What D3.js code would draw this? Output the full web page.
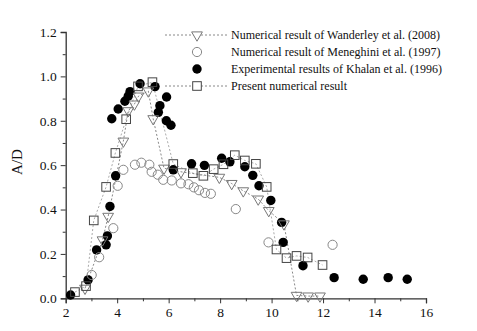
<!DOCTYPE html>
<html><head><meta charset="utf-8">
<script src="https://cdn.jsdelivr.net/npm/d3@7"></script>
<style>body{margin:0;background:#fff}svg{display:block}</style>
</head><body>
<svg id="c" width="477" height="331"></svg>
<script>
const wanderleyX = [2.75,3.43,3.65,4.24,4.43,4.67,4.83,5.21,5.40,5.82,6.48,7.97,8.45,8.90,9.48,9.89,10.48,10.97,11.42,11.88];
const wanderleyY = [0.045,0.263,0.369,0.708,0.845,0.875,0.911,0.934,0.809,0.586,0.570,0.545,0.517,0.484,0.447,0.395,0.335,0.013,0.010,0.010];
const meneghiniX = [3.01,3.30,3.85,4.02,4.24,4.69,4.94,5.25,5.34,5.58,5.79,6.12,6.48,6.77,6.98,7.18,7.41,7.64,8.61,9.88,12.37];
const meneghiniY = [0.105,0.185,0.316,0.507,0.579,0.602,0.611,0.602,0.570,0.557,0.534,0.531,0.518,0.514,0.500,0.487,0.475,0.471,0.402,0.252,0.241];
const khalanX = [2.19,2.87,3.20,3.57,3.62,3.72,3.94,3.79,4.04,4.30,4.43,4.50,4.89,5.47,5.92,5.66,5.60,5.91,6.09,6.18,6.89,7.39,8.06,8.38,8.96,9.27,9.51,9.97,10.39,10.45,11.22,12.43,13.56,14.53,15.27];
const khalanY = [0.015,0.083,0.218,0.241,0.281,0.414,0.552,0.809,0.853,0.888,0.911,0.931,0.967,0.954,0.907,0.868,0.838,0.800,0.780,0.579,0.606,0.599,0.631,0.615,0.593,0.554,0.507,0.441,0.342,0.252,0.147,0.093,0.086,0.093,0.086];
const presentX = [2.36,2.79,3.09,3.57,3.93,4.35,4.81,5.37,6.18,6.94,7.35,7.75,8.13,8.57,8.96,9.39,9.81,10.19,10.58,10.97,11.40,11.98];
const presentY = [0.028,0.055,0.351,0.502,0.655,0.807,0.955,0.974,0.605,0.564,0.552,0.582,0.604,0.645,0.621,0.606,0.502,0.220,0.181,0.191,0.184,0.150];
const legendLabels = ["Numerical result of Wanderley et al. (2008)","Numerical result of Meneghini et al. (1997)","Experimental results of Khalan et al. (1996)","Present numerical result"];
const xTicks = [2,4,6,8,10,12,14,16];
const yTicks = [0.0,0.2,0.4,0.6,0.8,1.0,1.2];

const svg = d3.select("#c");
const x = d3.scaleLinear().domain([2,16]).range([65.7,426]);
const y = d3.scaleLinear().domain([0,1.2]).range([298.3,32]);
const font = "'Liberation Serif','Times New Roman',serif";

const xAxis = d3.axisBottom(x).tickValues(xTicks).tickFormat(d3.format("d")).tickSize(5).tickPadding(4);
const xMinor = d3.axisBottom(x).tickValues(d3.range(3,16,2)).tickFormat("").tickSize(3);
const yAxis = d3.axisLeft(y).tickValues(yTicks).tickFormat(d3.format(".1f")).tickSize(5).tickPadding(4);
const yMinor = d3.axisLeft(y).tickValues(d3.range(0.1,1.2,0.2)).tickFormat("").tickSize(3);

function styleAxis(g){
  g.select(".domain").attr("stroke","#333").attr("stroke-width",1.3);
  g.selectAll(".tick line").attr("stroke","#333").attr("stroke-width",1);
  g.selectAll("text").attr("font-family",font).attr("font-size",13.5).attr("fill","#111");
}
svg.append("g").attr("transform","translate(0,298.3)").call(xAxis).call(styleAxis);
svg.append("g").attr("transform","translate(0,298.3)").call(xMinor).call(g=>{g.select(".domain").remove();g.selectAll("line").attr("stroke","#333");});
svg.append("g").attr("transform","translate(65.7,0)").call(yAxis).call(styleAxis);
svg.append("g").attr("transform","translate(65.7,0)").call(yMinor).call(g=>{g.select(".domain").remove();g.selectAll("line").attr("stroke","#333");});

svg.append("text").attr("transform","translate(22,162) rotate(-90)").attr("text-anchor","middle")
  .attr("font-family",font).attr("font-size",15).attr("fill","#111").text("A/D");

const line = d3.line().x(d=>x(d[0])).y(d=>y(d[1]));
const wData = wanderleyX.map((v,i)=>[v,wanderleyY[i]]);
const mData = meneghiniX.map((v,i)=>[v,meneghiniY[i]]);
const kData = khalanX.map((v,i)=>[v,khalanY[i]]);
const pData = presentX.map((v,i)=>[v,presentY[i]]);

svg.append("path").datum(pData).attr("d",line).attr("fill","none").attr("stroke","#aaa").attr("stroke-width",1).attr("stroke-dasharray","2,2");
svg.append("path").datum(wData).attr("d",line).attr("fill","none").attr("stroke","#888").attr("stroke-width",1).attr("stroke-dasharray","2,2");

const tri = d3.symbol().type(d3.symbolTriangle).size(50);
function triDown(g){ return g.attr("d",tri).attr("fill","#fff").attr("stroke","#777").attr("stroke-width",1); }

svg.append("g").selectAll("circle").data(kData).join("circle")
  .attr("cx",d=>x(d[0])).attr("cy",d=>y(d[1])).attr("r",4.7).attr("fill","#000");
svg.append("g").selectAll("circle").data(mData).join("circle")
  .attr("cx",d=>x(d[0])).attr("cy",d=>y(d[1])).attr("r",4.6).attr("fill","none").attr("stroke","#888").attr("stroke-width",1);
svg.append("g").selectAll("path").data(wData).join("path")
  .attr("transform",d=>`translate(${x(d[0])},${y(d[1])}) rotate(180)`).call(triDown).attr("fill","none");
svg.append("g").selectAll("rect").data(pData).join("rect")
  .attr("x",d=>x(d[0])-4.3).attr("y",d=>y(d[1])-4.3).attr("width",8.6).attr("height",8.6)
  .attr("fill","none").attr("stroke","#444").attr("stroke-width",1);

const lx = 197, ly = [35,52,69,86];
const leg = svg.append("g");
leg.append("line").attr("x1",165).attr("x2",228).attr("y1",ly[0]).attr("y2",ly[0]).attr("stroke","#888").attr("stroke-dasharray","2,2");
leg.append("path").attr("transform",`translate(${lx},${ly[0]}) rotate(180)`).call(triDown);
leg.append("circle").attr("cx",lx).attr("cy",ly[1]).attr("r",4.6).attr("fill","#fff").attr("stroke","#888");
leg.append("circle").attr("cx",lx).attr("cy",ly[2]).attr("r",4.7).attr("fill","#000");
leg.append("line").attr("x1",165).attr("x2",228).attr("y1",ly[3]).attr("y2",ly[3]).attr("stroke","#888").attr("stroke-dasharray","2,2");
leg.append("rect").attr("x",lx-4.3).attr("y",ly[3]-4.3).attr("width",8.6).attr("height",8.6).attr("fill","#fff").attr("stroke","#444");
leg.selectAll("text").data(legendLabels).join("text")
  .attr("x",231).attr("y",(d,i)=>ly[i]+4).attr("font-family",font).attr("font-size",12).attr("fill","#111").text(d=>d);
</script>
</body></html>
